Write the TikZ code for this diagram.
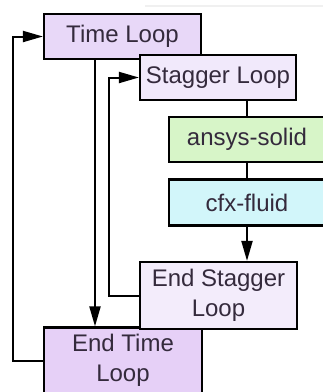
\documentclass[tikz,border=0pt]{standalone}
\usepackage{fontspec}
\setmainfont{Liberation Sans}
\usetikzlibrary{arrows.meta}
\definecolor{tlfill}{HTML}{E8D8F8}
\definecolor{etfill}{HTML}{E6D0F7}
\definecolor{slfill}{HTML}{F1E9FB}
\definecolor{esfill}{HTML}{F3ECFB}
\definecolor{asfill}{HTML}{D7F5C8}
\definecolor{cffill}{HTML}{D2F6FA}
\definecolor{txt}{HTML}{342A3C}
\tikzset{
  boxnode/.style={draw=black, line width=2.2pt, rectangle, inner sep=0pt,
    minimum width=157pt, minimum height=45pt, align=center, text=txt,
    font=\fontsize{24}{29.5}\selectfont},
  conn/.style={draw=black, line width=2pt},
  arr/.style={conn, -{Triangle[length=20pt,width=11pt]}}
}
\begin{document}
\begin{tikzpicture}[x=1pt,y=-1pt]
\useasboundingbox (0,0) rectangle (323,392);
\clip (0,0) rectangle (323,392);
\fill[white] (0,0) rectangle (323,392);
\draw[line width=2pt, black!6] (145,6) -- (323,6);
\node[boxnode, fill=tlfill] (TL) at (122.5,36.5) {Time Loop};
\node[boxnode, fill=slfill, minimum width=156pt] (SL) at (218,77.5) {Stagger Loop};
\node[boxnode, fill=asfill, minimum width=156pt] (AS) at (247,139.5) {ansys-solid};
\node[boxnode, fill=cffill, minimum width=156pt, minimum height=46pt] (CF) at (247,202.5) {cfx-fluid};
\node[boxnode, fill=etfill, minimum width=158pt, minimum height=66pt] (ET) at (123,360.5) {End Time\\Loop};
\node[boxnode, fill=esfill, minimum height=67pt] (ES) at (218.5,295.5) {End Stagger\\Loop};
\coordinate (tlx) at (95,0);
\draw[arr] (TL.south -| tlx) -- (ET.north -| tlx);
\draw[arr] (ET.west) -- ++(-30,0) |- (TL.west);
\draw[arr] (ES.west) -- ++(-30,0) |- (SL.west);
\draw[conn] (SL.south -| AS.north) -- (AS.north);
\draw[conn] (AS.south) -- (CF.north);
\draw[arr] (CF.south) -- (ES.north -| CF.south);
\end{tikzpicture}
\end{document}
